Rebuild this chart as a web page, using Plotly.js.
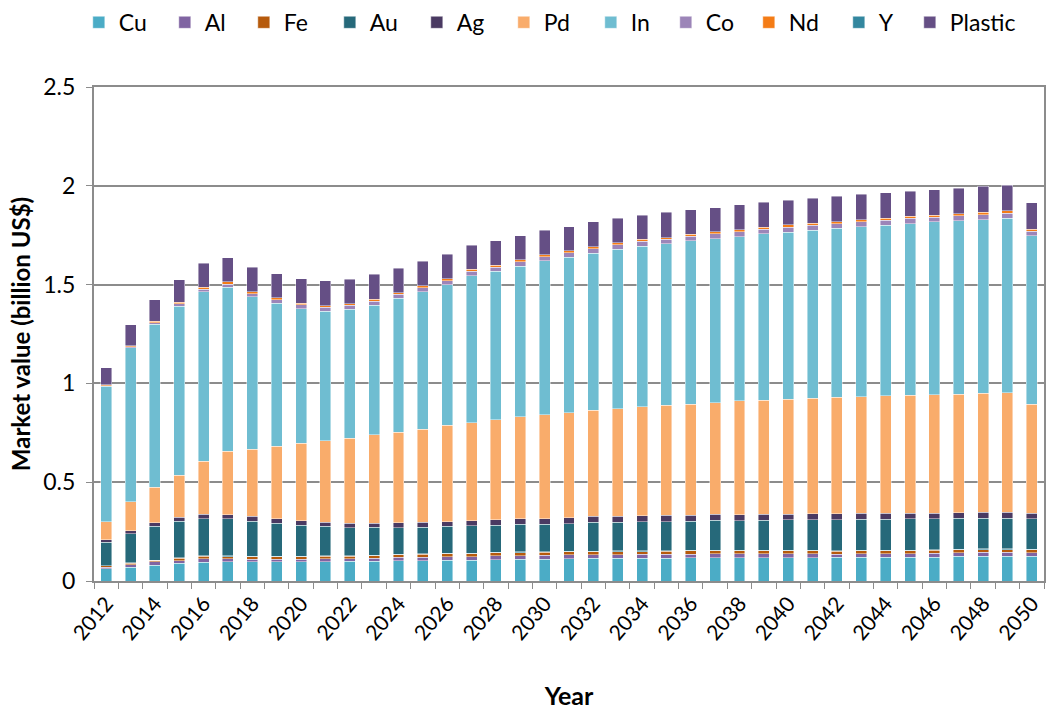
<!DOCTYPE html>
<html>
<head>
<meta charset="utf-8">
<script src="https://cdn.plot.ly/plotly-3.0.1.min.js"></script>
<style>html,body{margin:0;padding:0;background:#fff}#chart{width:1046px;height:711px}</style>
</head>
<body>
<div id="chart"></div>
<script>
const years = [2012,2013,2014,2015,2016,2017,2018,2019,2020,2021,2022,2023,2024,2025,2026,2027,2028,2029,2030,2031,2032,2033,2034,2035,2036,2037,2038,2039,2040,2041,2042,2043,2044,2045,2046,2047,2048,2049,2050];
const tickYears = [2012,2014,2016,2018,2020,2022,2024,2026,2028,2030,2032,2034,2036,2038,2040,2042,2044,2046,2048,2050];

const cu = [0.062,0.070,0.080,0.090,0.096,0.097,0.097,0.098,0.098,0.098,0.099,0.100,0.103,0.103,0.105,0.106,0.108,0.110,0.111,0.113,0.115,0.115,0.116,0.116,0.118,0.118,0.118,0.118,0.118,0.118,0.121,0.121,0.121,0.121,0.121,0.125,0.125,0.125,0.125];
const al = [0.008,0.012,0.017,0.013,0.017,0.015,0.013,0.012,0.012,0.014,0.014,0.014,0.017,0.017,0.017,0.017,0.019,0.017,0.019,0.019,0.019,0.019,0.019,0.019,0.017,0.019,0.019,0.019,0.019,0.019,0.015,0.017,0.017,0.017,0.020,0.017,0.020,0.020,0.017];
const fe = [0.006,0.008,0.007,0.012,0.012,0.012,0.013,0.012,0.012,0.014,0.012,0.014,0.012,0.015,0.015,0.015,0.015,0.017,0.015,0.015,0.014,0.015,0.014,0.015,0.017,0.015,0.015,0.015,0.015,0.015,0.015,0.015,0.015,0.015,0.015,0.015,0.014,0.014,0.015];
const au = [0.118,0.146,0.171,0.186,0.187,0.187,0.177,0.167,0.157,0.147,0.142,0.140,0.135,0.135,0.137,0.139,0.137,0.140,0.139,0.140,0.147,0.145,0.149,0.147,0.147,0.152,0.150,0.152,0.154,0.155,0.157,0.157,0.157,0.159,0.155,0.157,0.155,0.155,0.155];
const ag = [0.012,0.017,0.019,0.020,0.022,0.022,0.024,0.024,0.022,0.022,0.023,0.022,0.024,0.024,0.024,0.025,0.027,0.027,0.029,0.029,0.029,0.030,0.030,0.032,0.032,0.030,0.030,0.030,0.030,0.030,0.029,0.029,0.030,0.029,0.030,0.029,0.030,0.030,0.027];
const pd = [0.092,0.145,0.179,0.212,0.269,0.321,0.340,0.367,0.393,0.411,0.430,0.446,0.458,0.472,0.487,0.496,0.508,0.516,0.526,0.532,0.537,0.546,0.552,0.558,0.561,0.565,0.576,0.578,0.582,0.584,0.589,0.590,0.594,0.597,0.598,0.600,0.602,0.606,0.552];
const inn = [0.686,0.780,0.825,0.855,0.859,0.829,0.771,0.723,0.682,0.657,0.652,0.657,0.678,0.696,0.711,0.745,0.750,0.763,0.778,0.788,0.795,0.806,0.811,0.818,0.826,0.830,0.832,0.842,0.845,0.852,0.855,0.861,0.864,0.867,0.875,0.877,0.879,0.883,0.853];
const co = [0.003,0.005,0.008,0.012,0.012,0.016,0.015,0.018,0.018,0.020,0.020,0.020,0.020,0.020,0.020,0.022,0.022,0.022,0.022,0.022,0.022,0.022,0.025,0.022,0.024,0.025,0.025,0.022,0.024,0.025,0.023,0.024,0.024,0.027,0.024,0.025,0.025,0.025,0.022];
const nd = [0.005,0.005,0.007,0.008,0.010,0.013,0.012,0.010,0.008,0.008,0.008,0.010,0.010,0.010,0.010,0.010,0.010,0.010,0.010,0.010,0.010,0.010,0.010,0.008,0.010,0.010,0.010,0.010,0.012,0.010,0.012,0.010,0.010,0.010,0.010,0.010,0.012,0.012,0.010];
const yy = [0.002,0.002,0.002,0.002,0.003,0.003,0.003,0.003,0.003,0.003,0.003,0.003,0.003,0.003,0.003,0.003,0.003,0.003,0.003,0.003,0.003,0.003,0.003,0.003,0.003,0.003,0.003,0.003,0.003,0.003,0.003,0.003,0.003,0.003,0.003,0.003,0.003,0.003,0.003];
const plastic = [0.086,0.106,0.108,0.115,0.121,0.121,0.124,0.122,0.125,0.126,0.123,0.127,0.122,0.122,0.124,0.122,0.122,0.122,0.123,0.123,0.126,0.125,0.122,0.128,0.125,0.123,0.127,0.128,0.126,0.125,0.129,0.129,0.130,0.128,0.129,0.130,0.133,0.131,0.134];

// legend order
const seriesNames = ['Cu','Al','Fe','Au','Ag','Pd','In','Co','Nd','Y','Plastic'];
const seriesColors = ['#4BACC6','#8064A2','#B65A0C','#26697A','#4A3A62','#F9AC6B','#6FBDD1','#9C85B8','#F47C16','#33879F','#654F85'];
const legendWidths = [41,34,41,42,42,42,30,38,45,26,70];
const seriesVals = {Cu:cu, Al:al, Fe:fe, Au:au, Ag:ag, Pd:pd, In:inn, Co:co, Nd:nd, Y:yy, Plastic:plastic};
// stacking order (bottom to top)
const stackOrder = ['Cu','Al','Fe','Y','Au','Ag','Pd','In','Co','Nd','Plastic'];

const traces = stackOrder.map(n => {
  const i = seriesNames.indexOf(n);
  return {
    type:'bar', name:n, x:years, y:seriesVals[n],
    marker:{color:seriesColors[i], line:{color:'rgba(255,255,255,0.55)', width:0.8}},
    legendrank: i+1, legendwidth: legendWidths[i],
    hoverinfo:'x+y+name'
  };
});

const FONT = 'Lato, "Open Sans", "DejaVu Sans", sans-serif';
const GRID = '#8C8C8C';

const layout = {
  width:1046, height:711,
  margin:{l:94, r:2, t:86, b:130},
  paper_bgcolor:'#fff', plot_bgcolor:'#fff',
  barmode:'stack', bargap:0.55,
  font:{family:FONT, size:19, color:'#000'},
  showlegend:true,
  legend:{orientation:'h', x:-0.016, xanchor:'left', y:1.172, yanchor:'top',
          font:{family:FONT, size:23, color:'#000'}, traceorder:'normal',
          itemwidth:30, tracegroupgap:0, bgcolor:'rgba(0,0,0,0)'},
  xaxis:{
    range:[2011.5, 2050.5], tickmode:'array', tickvals:tickYears, ticktext:tickYears.map(String),
    tickangle:-50, ticks:'', showgrid:false, zeroline:false,
    showline:true, linecolor:GRID, linewidth:2, mirror:true,
    tickfont:{family:FONT, size:21, color:'#000'},
    minor:{tick0:2011.5, dtick:1, ticks:'outside', ticklen:6, tickcolor:GRID, tickwidth:1, showgrid:false},
    title:{text:'<b>Year</b>', font:{family:FONT, size:25, color:'#000'}, standoff:44}
  },
  yaxis:{
    range:[0,2.5], tickvals:[0,0.5,1,1.5,2,2.5], ticktext:['0','0.5','1','1.5','2','2.5'],
    showgrid:true, gridcolor:GRID, gridwidth:2, zeroline:false,
    showline:true, linecolor:GRID, linewidth:2, mirror:true,
    ticks:'outside', ticklen:6, tickcolor:GRID, tickwidth:1, ticklabelstandoff:6,
    tickfont:{family:FONT, size:23, color:'#000'},
    title:{text:'<b>Market value (billion US$)</b>', font:{family:FONT, size:24, color:'#000'}, standoff:6}
  }
};

Plotly.newPlot('chart', traces, layout, {displayModeBar:false, staticPlot:true});
</script>
</body>
</html>
